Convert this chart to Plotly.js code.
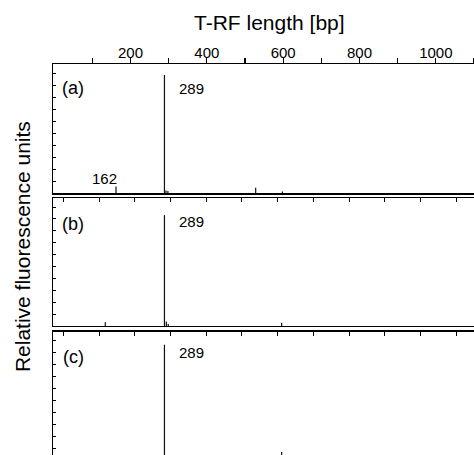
<!DOCTYPE html>
<html>
<head>
<meta charset="utf-8">
<script src="https://cdn.plot.ly/plotly-3.0.1.min.js"></script>
<style>html,body{margin:0;padding:0;background:#fff;}#chart{width:474px;height:455px;}</style>
</head>
<body>
<div id="chart"></div>
<script>
// T-RF lengths (bp) and relative heights per profile
const peaksA_bp = [162, 289, 293, 298, 528, 598];
const peaksA_h  = [0.05, 0.915, 0.02, 0.015, 0.04, 0.012];
const peaksB_bp = [134, 289, 294, 299, 596];
const peaksB_h  = [0.03, 0.867, 0.035, 0.015, 0.025];
const peaksC_bp = [289, 596];
const peaksC_h  = [0.9, 0.0625];

const labeledTicks = [100, 200, 300, 400, 500, 600, 700, 800, 900, 1000, 1100];
const tickLabels   = ['', '200', '', '400', '', '600', '', '800', '', '1000', ''];

const panelLabels = ['(a)', '(b)', '(c)'];
const mainPeakLabel = '289';
const minorPeakLabel = '162';

function spikes(bp, h) {
  const x = [], y = [];
  bp.forEach((p, i) => { x.push(p, p, null); y.push(0, h[i], null); });
  return {x, y};
}

const FONT = 'Liberation Sans, Arial, Helvetica, sans-serif';
const sA = spikes(peaksA_bp, peaksA_h);
const sB = spikes(peaksB_bp, peaksB_h);
const sC = spikes(peaksC_bp, peaksC_h);
const lineStyle = {color: '#111', width: 1.2};

const data = [
  {x: sA.x, y: sA.y, xaxis: 'x', yaxis: 'y', mode: 'lines', line: lineStyle, hoverinfo: 'skip'},
  {x: sB.x, y: sB.y, xaxis: 'x2', yaxis: 'y2', mode: 'lines', line: lineStyle, hoverinfo: 'skip'},
  {x: sC.x, y: sC.y, xaxis: 'x3', yaxis: 'y3', mode: 'lines', line: lineStyle, hoverinfo: 'skip'}
];

const xr = [-3, 1100];
const innerX = {range: xr, side: 'top', showline: true, mirror: true, linecolor: '#000', linewidth: 1.5,
  ticks: 'inside', ticklen: 4, tickcolor: '#000', tickwidth: 1, tick0: 24.5, dtick: 93.5,
  showticklabels: false, showgrid: false, zeroline: false};
const yBase = {showline: true, linecolor: '#000', linewidth: 1.5, ticks: 'inside', ticklen: 3,
  tickcolor: '#000', tickwidth: 1, dtick: 0.093, showticklabels: false, showgrid: false, zeroline: false};

const layout = {
  width: 474, height: 455,
  margin: {l: 53, r: 0, t: 64, b: 0},
  paper_bgcolor: '#fff', plot_bgcolor: '#fff',
  showlegend: false,
  font: {family: FONT, color: '#000'},
  xaxis: {range: xr, side: 'top', anchor: 'y', showline: true, mirror: true, linecolor: '#000', linewidth: 1.5,
    ticks: 'outside', ticklen: 5, tickcolor: '#000', tickwidth: 1.2,
    tickmode: 'array', tickvals: labeledTicks, ticktext: tickLabels, ticklabelstandoff: -6,
    tickfont: {family: FONT, size: 15, color: '#000'}, showgrid: false, zeroline: false},
  xaxis2: Object.assign({anchor: 'y2'}, innerX),
  xaxis3: Object.assign({anchor: 'y3'}, innerX),
  yaxis: Object.assign({domain: [0.670, 1], range: [0, 1]}, yBase),
  yaxis2: Object.assign({domain: [0.330, 0.657], range: [0, 1]}, yBase),
  yaxis3: Object.assign({domain: [0, 0.315], range: [0.039, 1]}, yBase),
  annotations: [
    {text: 'T-RF length [bp]', xref: 'paper', yref: 'paper', x: 0.515, y: 1.107, xanchor: 'center', yanchor: 'middle',
      showarrow: false, font: {family: FONT, size: 21, color: '#000'}},
    {text: 'Relative fluorescence units', xref: 'paper', yref: 'paper', x: -0.071, y: 0.532, textangle: -90,
      xanchor: 'center', yanchor: 'middle', showarrow: false, font: {family: FONT, size: 21, color: '#000'}},
    {text: panelLabels[0], xref: 'x', yref: 'y', x: 50, y: 0.814, showarrow: false, font: {size: 18}},
    {text: mainPeakLabel, xref: 'x', yref: 'y', x: 361, y: 0.814, showarrow: false, font: {size: 15}},
    {text: minorPeakLabel, xref: 'x', yref: 'y', x: 131, y: 0.116, showarrow: false, font: {size: 15}},
    {text: panelLabels[1], xref: 'x2', yref: 'y2', x: 50, y: 0.80, showarrow: false, font: {size: 18}},
    {text: mainPeakLabel, xref: 'x2', yref: 'y2', x: 361, y: 0.82, showarrow: false, font: {size: 15}},
    {text: panelLabels[2], xref: 'x3', yref: 'y3', x: 50, y: 0.80, showarrow: false, font: {size: 18}},
    {text: mainPeakLabel, xref: 'x3', yref: 'y3', x: 361, y: 0.84, showarrow: false, font: {size: 15}}
  ]
};

Plotly.newPlot('chart', data, layout, {staticPlot: true, displayModeBar: false});
</script>
</body>
</html>
